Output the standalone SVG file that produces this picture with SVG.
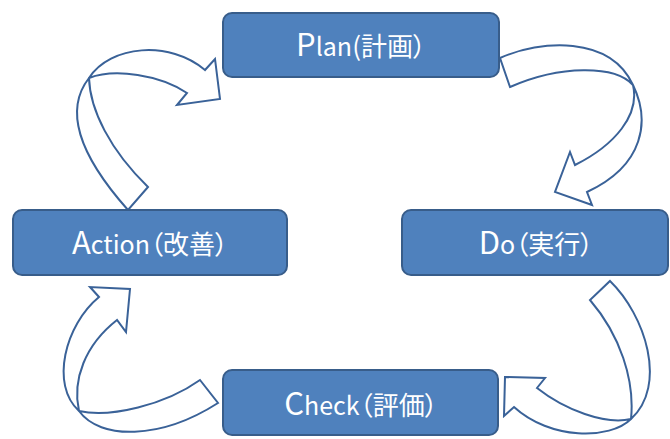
<svg xmlns="http://www.w3.org/2000/svg" width="670" height="439" viewBox="0 0 670 439">
<style>
.box{fill:#4F81BD;stroke:#385D8A;stroke-width:2}
.lbl{font-family:"Noto Sans CJK JP","Noto Sans",sans-serif;fill:#FFFFFF;font-size:25px;text-anchor:middle;font-feature-settings:"palt"}
.big{font-size:31px}
.cjk{font-size:26px}
.arr{fill:#FFFFFF;stroke:#3A6298;stroke-width:2;stroke-linejoin:miter}
</style>
<rect width="670" height="439" fill="#FFFFFF"/>
<g id="connectors">
<path class="arr" d="M128,210 C88,165 60,115 89,78 C110,45 170,40 205,70 L215,59 L220,99 L177,105 L187,93 C160,75 115,68 89,78 C90,110 110,150 148,187 Z"/>
<path class="arr" d="M500,58 C540,40 610,35 633,85 C650,120 645,165 587,192 L592,205 L555,192 L570,152 L575,165 C615,145 640,115 633,85 C615,65 560,65 510,87 Z"/>
<path class="arr" d="M610,281 C645,315 668,385 631,419 C610,440 550,440 514,407 L504,416 L505,377 L545,378 L537,388 C565,410 605,425 631,419 C635,380 620,335 590,300 Z"/>
<path class="arr" d="M99,297 C65,325 50,385 79,411 C100,440 160,440 218,403 L200,380 C165,405 110,418 79,411 C72,380 85,345 117,320 L126,332 L130,289 L90,287 Z"/>
</g>
<g id="plan">
<rect class="box" x="223" y="13" width="276" height="64" rx="9"/>
<text class="lbl" x="361" y="56"><tspan class="big">P</tspan>lan<tspan class="cjk">(計画）</tspan></text>
</g>
<g id="do">
<rect class="box" x="402" y="210" width="266" height="65" rx="9"/>
<text class="lbl" x="536" y="254"><tspan class="big">D</tspan>o<tspan class="cjk">（実行）</tspan></text>
</g>
<g id="check">
<rect class="box" x="223" y="370" width="275" height="65" rx="9"/>
<text class="lbl" x="361" y="415"><tspan class="big">C</tspan>heck<tspan class="cjk">（評価）</tspan></text>
</g>
<g id="action">
<rect class="box" x="13" y="210" width="274" height="65" rx="9"/>
<text class="lbl" x="150" y="254"><tspan class="big">A</tspan>ction<tspan class="cjk">（改善）</tspan></text>
</g>
</svg>
